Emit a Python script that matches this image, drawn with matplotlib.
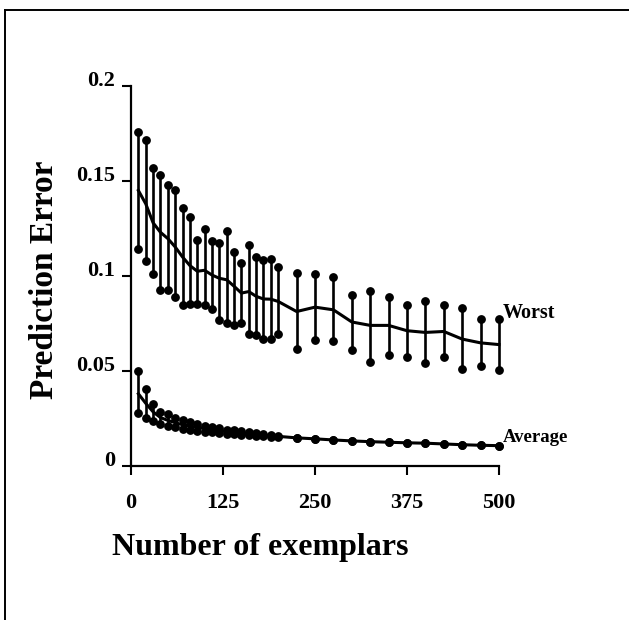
import numpy as np
import matplotlib
matplotlib.use("Agg")
import matplotlib.pyplot as plt
from matplotlib.lines import Line2D

plt.rcParams['font.family'] = ['Liberation Serif', 'DejaVu Serif']
plt.rcParams['font.weight'] = 'bold'

# number of exemplars
n_exemplars = [10, 20, 30, 40, 50, 60, 70, 80, 90, 100,
               110, 120, 130, 140, 150, 160, 170, 180, 190, 200,
               225, 250, 275, 300, 325, 350, 375, 400, 425, 450, 475, 500]

# worst case prediction error (mean, top and bottom of the bar)
worst_mean = [0.145, 0.138, 0.128, 0.123, 0.1197, 0.1153, 0.110, 0.1055, 0.1025, 0.103,
              0.1005, 0.0988, 0.098, 0.0946, 0.091, 0.0918, 0.0893, 0.0879, 0.0878, 0.0866,
              0.0813, 0.0836, 0.0822, 0.0758, 0.074, 0.074, 0.0712, 0.0703, 0.0708, 0.0668, 0.0648, 0.0639]
worst_hi = [0.176, 0.1716, 0.157, 0.153, 0.148, 0.145, 0.136, 0.131, 0.119, 0.1246,
            0.1185, 0.1176, 0.1237, 0.1127, 0.1066, 0.1162, 0.110, 0.1084, 0.1089, 0.1046,
            0.1014, 0.101, 0.0993, 0.090, 0.0921, 0.0892, 0.0848, 0.0866, 0.0848, 0.0834, 0.0773, 0.0773]
worst_lo = [0.114, 0.108, 0.101, 0.0927, 0.0927, 0.0887, 0.0848, 0.0852, 0.0852, 0.0848,
            0.0826, 0.0766, 0.0752, 0.0743, 0.0752, 0.0695, 0.0688, 0.0668, 0.0668, 0.0696,
            0.0616, 0.0661, 0.0656, 0.0613, 0.0548, 0.0583, 0.0574, 0.0543, 0.0574, 0.0511, 0.0525, 0.0503]

# average prediction error
avg_mean = [0.038, 0.033, 0.0285, 0.0255, 0.024, 0.0228, 0.0217, 0.021, 0.0203, 0.0197,
            0.0191, 0.0186, 0.0181, 0.0177, 0.0173, 0.0169, 0.0165, 0.0162, 0.0159, 0.0156,
            0.0148, 0.0143, 0.0137, 0.0132, 0.0128, 0.0125, 0.0122, 0.012, 0.0116, 0.0112, 0.0109, 0.0107]
avg_hi = [0.0499, 0.0403, 0.0328, 0.0286, 0.0272, 0.0255, 0.024, 0.0232, 0.0222, 0.0213,
          0.0205, 0.0198, 0.0192, 0.0187, 0.0182, 0.0177, 0.0172, 0.0168, 0.0164, 0.016,
          0.0148, 0.0143, 0.0137, 0.0132, 0.0128, 0.0125, 0.0122, 0.012, 0.0116, 0.0112, 0.0109, 0.0107]
avg_lo = [0.0277, 0.0255, 0.0237, 0.022, 0.0211, 0.0203, 0.0194, 0.019, 0.0185, 0.0181,
          0.0177, 0.0174, 0.017, 0.0167, 0.0164, 0.0161, 0.0158, 0.0156, 0.0154, 0.0152,
          0.0148, 0.0143, 0.0137, 0.0132, 0.0128, 0.0125, 0.0122, 0.012, 0.0116, 0.0112, 0.0109, 0.0107]

x_ticks = [0, 125, 250, 375, 500]
y_ticks = [0, 0.05, 0.1, 0.15, 0.2]
y_ticklabels = ['0', '0.05', '0.1', '0.15', '0.2']

fig = plt.figure(figsize=(6.29, 6.20), dpi=100)
ax = fig.add_axes([0.2083, 0.2484, 0.5850, 0.6129])


def draw_series(x, mean, lo, hi):
    ax.vlines(x, lo, hi, colors='black', linewidth=1.9, clip_on=False)
    ax.plot(x, lo, 'o', color='black', markersize=5.3, clip_on=False)
    ax.plot(x, hi, 'o', color='black', markersize=5.3, clip_on=False)
    ax.plot(x, mean, '-', color='black', linewidth=2.2, clip_on=False)


draw_series(n_exemplars, worst_mean, worst_lo, worst_hi)
draw_series(n_exemplars, avg_mean, avg_lo, avg_hi)

ax.text(505, 0.0805, 'Worst', fontsize=14.5, fontweight='bold', va='center', ha='left')
ax.text(505, 0.0148, 'Average', fontsize=13.5, fontweight='bold', va='center', ha='left')

ax.set_xlim(0, 500)
ax.set_ylim(0, 0.2)
ax.set_xticks(x_ticks)
ax.set_xticklabels([str(t) for t in x_ticks], fontsize=16, fontweight='bold')
ax.set_yticks(y_ticks)
ax.set_yticklabels(y_ticklabels, fontsize=16, fontweight='bold')
for lab in ax.get_yticklabels():
    lab.set_va('baseline')

ax.spines['top'].set_visible(False)
ax.spines['right'].set_visible(False)
for s in ['left', 'bottom']:
    ax.spines[s].set_linewidth(1.6)
ax.tick_params(axis='both', direction='out', length=6.5, width=1.5)
ax.tick_params(axis='x', pad=13)
ax.tick_params(axis='y', pad=5)

fig.text(0.070, 0.548, 'Prediction Error', rotation=90, fontsize=24, fontweight='bold',
         ha='center', va='center')
fig.text(0.413, 0.117, 'Number of exemplars', fontsize=23, fontweight='bold',
         ha='center', va='center')

# outer frame (left and top edges only)
fig.add_artist(Line2D([0.008, 0.008], [0.0, 0.984], transform=fig.transFigure,
                      color='black', linewidth=1.4))
fig.add_artist(Line2D([0.008, 1.0], [0.984, 0.984], transform=fig.transFigure,
                      color='black', linewidth=1.4))

fig.savefig('out.png', dpi=100)
